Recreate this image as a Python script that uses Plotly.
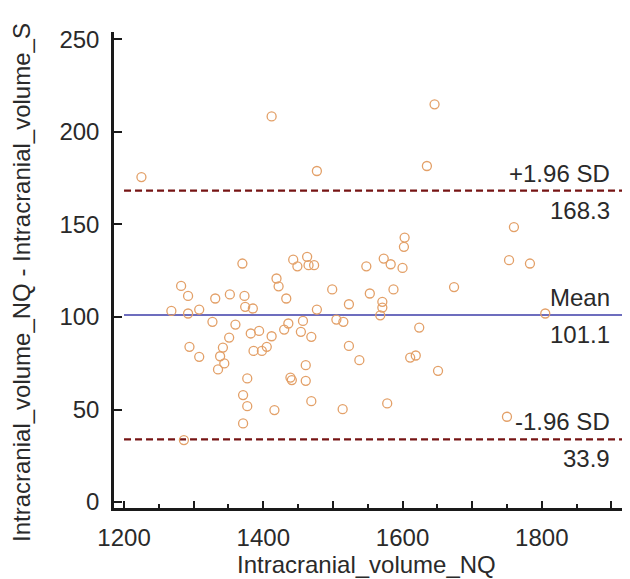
import plotly.graph_objects as go

# Bland-Altman data (x = Intracranial_volume_NQ, y = difference)
x_vals = [1225, 1412, 1477, 1635, 1646, 1603, 1760, 1753, 1783, 1674, 1805, 1651, 1750,
          1282, 1292, 1268, 1292, 1308, 1331, 1352, 1370, 1373, 1374, 1385, 1327, 1360,
          1351, 1382, 1394, 1412, 1294, 1308, 1342, 1338, 1344, 1335, 1386, 1398, 1405,
          1377, 1371, 1377, 1371, 1416, 1286, 1419, 1422,
          1602, 1443, 1463, 1449, 1465, 1473, 1548, 1573, 1583, 1600, 1433, 1499, 1523,
          1553, 1587, 1571, 1571, 1568, 1477, 1505, 1515, 1436, 1457, 1430, 1454, 1469,
          1624, 1523, 1538, 1611, 1619, 1461, 1439, 1441, 1461, 1469, 1514, 1578]
y_vals = [175.6, 208.4, 178.9, 181.6, 214.9, 142.9, 148.6, 130.7, 128.9, 116.2, 101.9, 70.9, 46.1,
          116.8, 111.4, 103.3, 101.9, 104.0, 110.0, 112.2, 128.9, 111.4, 105.5, 104.6, 97.4, 95.9,
          88.9, 91.1, 92.5, 89.6, 83.9, 78.5, 83.5, 78.8, 74.9, 71.7, 81.7, 81.7, 83.9,
          66.8, 57.8, 51.8, 42.5, 49.7, 33.5, 120.8, 116.6,
          137.9, 131.0, 132.5, 127.4, 128.0, 128.0, 127.4, 131.6, 128.5, 126.5, 110.0, 114.9, 106.9,
          112.7, 114.9, 108.2, 105.1, 100.9, 104.0, 98.6, 97.4, 96.5, 97.9, 93.2, 92.0, 89.3,
          94.3, 84.4, 76.7, 78.1, 79.2, 74.0, 67.3, 65.9, 65.5, 54.5, 50.2, 53.3]

line_names = ["+1.96 SD", "Mean", "-1.96 SD"]
line_values = [168.3, 101.1, 33.9]
line_colors = ["#761414", "#3C3CA8", "#761414"]
line_dashes = ["7px,4px", "solid", "7px,4px"]

x_tickvals = [1200, 1300, 1400, 1500, 1600, 1700, 1800, 1900]
x_ticktext = ["1200", "", "1400", "", "1600", "", "1800", ""]
y_tickvals = [0, 50, 100, 150, 200, 250]

x_title = "Intracranial_volume_NQ"
y_title = "Intracranial_volume_NQ - Intracranial_volume_S"

x_range = [1185.6, 1926.7]
y_range = [-3.2, 254]
line_x_start = 1200
label_x = 1901

FONT = "Liberation Sans, Arial, sans-serif"
FS = 24
TXT = "#2a2a2a"

fig = go.Figure()

for name, val, col, dash in zip(line_names, line_values, line_colors, line_dashes):
    fig.add_trace(go.Scatter(
        x=[line_x_start, x_range[1]], y=[val, val], mode="lines",
        line=dict(color=col, width=1.5 if dash == "solid" else 2.2, dash=dash),
        hoverinfo="skip", showlegend=False))
    fig.add_annotation(x=label_x, y=val, text=name, showarrow=False,
                       xanchor="right", yanchor="bottom", yshift=2,
                       font=dict(family=FONT, size=FS, color=TXT))
    fig.add_annotation(x=label_x, y=val, text=f"{val:.1f}", showarrow=False,
                       xanchor="right", yanchor="top", yshift=-4,
                       font=dict(family=FONT, size=FS, color=TXT))

fig.add_trace(go.Scatter(
    x=x_vals, y=y_vals, mode="markers",
    marker=dict(symbol="circle-open", size=9, color="#E3A068", line=dict(width=1.3, color="#E3A068")),
    showlegend=False))

fig.add_annotation(xref="paper", yref="paper", x=0.49, y=-0.118, text=x_title,
                   showarrow=False, xanchor="center", yanchor="middle",
                   font=dict(family=FONT, size=FS, color=TXT))
fig.add_annotation(xref="paper", yref="paper", x=-0.178, y=0.473, text=y_title,
                   showarrow=False, xanchor="center", yanchor="middle", textangle=-90,
                   font=dict(family=FONT, size=FS, color=TXT))

# page body has an 8px default margin, so the figure is 8px smaller and margins compensate
fig.update_layout(
    width=622, height=571,
    margin=dict(l=106, r=0, t=24, b=71),
    paper_bgcolor="white", plot_bgcolor="white",
    font=dict(family=FONT, size=FS, color=TXT),
    showlegend=False,
)
fig.update_xaxes(
    range=x_range, showgrid=False, zeroline=False, automargin=False,
    showline=True, linecolor="#1a1a1a", linewidth=2.5,
    tickmode="array", tickvals=x_tickvals, ticktext=x_ticktext,
    ticks="inside", ticklen=7, tickwidth=1.5, tickcolor="#1a1a1a",
    minor=dict(dtick=50, tick0=1200, ticks="inside", ticklen=4, tickwidth=1.5, tickcolor="#1a1a1a", showgrid=False),
    ticklabelstandoff=6,
    tickfont=dict(family=FONT, size=FS, color=TXT),
)
fig.update_yaxes(
    range=y_range, showgrid=False, zeroline=False, automargin=False,
    showline=True, linecolor="#1a1a1a", linewidth=2.5,
    tickmode="array", tickvals=y_tickvals,
    ticks="inside", ticklen=8, tickwidth=1.5, tickcolor="#1a1a1a",
    ticklabelstandoff=7,
    tickfont=dict(family=FONT, size=FS, color=TXT),
)

fig.write_html("out.html")
